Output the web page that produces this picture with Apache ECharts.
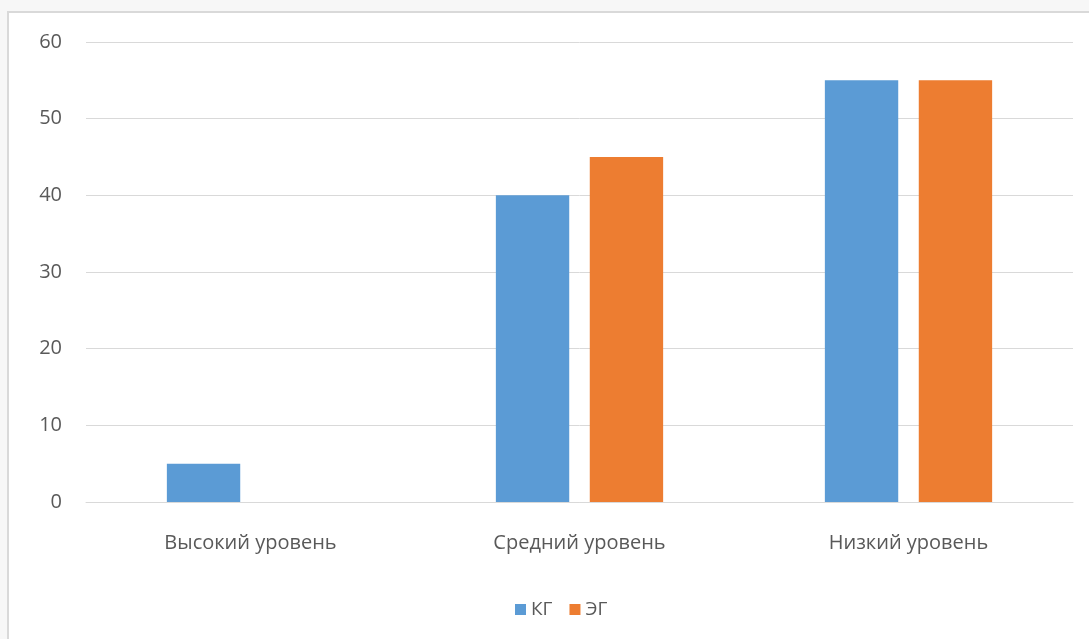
<!DOCTYPE html>
<html>
<head>
<meta charset="utf-8">
<script src="https://cdn.jsdelivr.net/npm/echarts@6/dist/echarts.min.js"></script>
<style>
html,body{margin:0;padding:0;background:#f7f7f7;}
#c{width:1089px;height:639px;}
</style>
</head>
<body>
<div id="c"></div>
<script>
const categories = ['Высокий уровень', 'Средний уровень', 'Низкий уровень'];
const seriesNames = ['КГ', 'ЭГ'];
const kgValues = [5, 40, 55];
const egValues = [0, 45, 55];
const yTicks = [0, 10, 20, 30, 40, 50, 60];

const chart = echarts.init(document.getElementById('c'), null, {renderer: 'canvas'});
const font = '"Open Sans", "Noto Sans", sans-serif';
chart.setOption({
  backgroundColor: '#f7f7f7',
  animation: false,
  graphic: [{
    type: 'rect', z: -10, silent: true,
    shape: {x: 8, y: 12, width: 1200, height: 700},
    style: {fill: '#ffffff', stroke: '#d9d9d9', lineWidth: 2}
  }],
  grid: {left: 86, right: 16, top: 42, bottom: 137, containLabel: false},
  legend: {
    data: seriesNames,
    top: 595, left: 510,
    itemWidth: 11, itemHeight: 11, itemGap: 17,
    icon: 'rect',
    textStyle: {color: '#595959', fontSize: 19, fontFamily: font}
  },
  xAxis: {
    type: 'category', data: categories,
    axisLine: {show: true, lineStyle: {color: '#d9d9d9', width: 1}},
    axisTick: {show: false},
    axisLabel: {color: '#595959', fontSize: 20, fontFamily: font, margin: 31}
  },
  yAxis: {
    type: 'value', min: yTicks[0], max: yTicks[yTicks.length-1], interval: 10,
    axisLine: {show: false}, axisTick: {show: false},
    splitLine: {lineStyle: {color: '#d9d9d9', width: 1}},
    axisLabel: {color: '#595959', fontSize: 20, fontFamily: font, margin: 24}
  },
  series: [
    {name: seriesNames[0], type: 'bar', data: kgValues, barWidth: '22.3%', barGap: '28%',
     itemStyle: {color: '#5b9bd5'}},
    {name: seriesNames[1], type: 'bar', data: egValues, barWidth: '22.3%', barGap: '28%',
     itemStyle: {color: '#ed7d31'}}
  ]
});
</script>
</body>
</html>
